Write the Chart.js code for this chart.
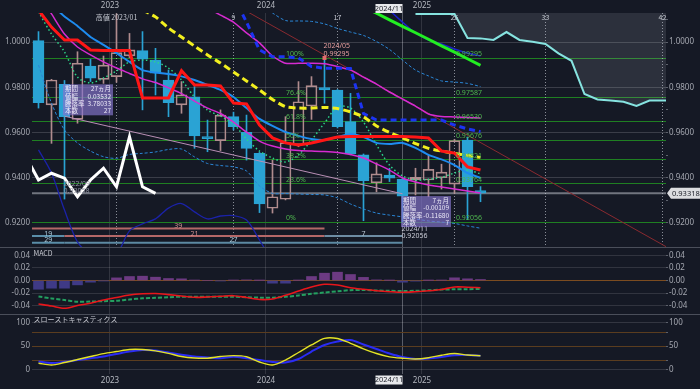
<!DOCTYPE html>
<html><head><meta charset="utf-8">
<script src="https://cdn.jsdelivr.net/npm/chart.js@4/dist/chart.umd.min.js"></script>
<style>
html,body{margin:0;padding:0;background:#151925;width:700px;height:389px;overflow:hidden}
.c{position:absolute;left:0;width:700px}
.sep{position:absolute;left:0;width:700px;height:1px;background:#4a4e5a}
</style></head><body>
<div class="c" style="top:0;height:248px"><canvas id="main" width="700" height="248"></canvas></div>
<div class="c" style="top:248px;height:66px"><canvas id="macd" width="700" height="66"></canvas></div>
<div class="c" style="top:314px;height:75px"><canvas id="stoch" width="700" height="75"></canvas></div>
<div class="sep" style="top:247px"></div>
<div class="sep" style="top:314px"></div>
<script>
// ---------------- DATA ----------------
const months = ['2022/07','2022/08','2022/09','2022/10','2022/11','2022/12','2023/01','2023/02','2023/03','2023/04','2023/05','2023/06','2023/07','2023/08','2023/09','2023/10','2023/11','2023/12','2024/01','2024/02','2024/03','2024/04','2024/05','2024/06','2024/07','2024/08','2024/09','2024/10','2024/11','2024/12','2025/01','2025/02','2025/03','2025/04','2025/05'];
const open  = [1.0006,0.9722,0.9813,0.9658,0.9894,0.9835,0.9847,0.9939,0.9962,0.9920,0.9832,0.9722,0.9758,0.9582,0.9564,0.9670,0.9601,0.9508,0.9265,0.9305,0.9545,0.9717,0.9798,0.9788,0.9648,0.9501,0.9378,0.9412,0.9393,0.9390,0.9390,0.9400,0.9372,0.9567,0.9343];
const high  = [1.0046,0.9835,0.9830,0.9957,0.9924,0.9938,1.0125,1.0038,1.0046,0.9972,0.9876,0.9825,0.9803,0.9655,0.9700,0.9690,0.9677,0.9512,0.9478,0.9670,0.9825,0.9847,0.99295,0.9790,0.9773,0.9505,0.9466,0.9442,0.9400,0.9442,0.9501,0.9460,0.9570,0.9580,0.9361];
const low   = [0.9708,0.9552,0.93058,0.9641,0.9825,0.9817,0.9822,0.9930,0.9700,0.9766,0.9670,0.9685,0.9530,0.9515,0.9520,0.9611,0.9478,0.9246,0.9244,0.9302,0.9537,0.9658,0.9729,0.9620,0.9501,0.9210,0.9338,0.9383,0.92056,0.9324,0.9316,0.9350,0.9331,0.9215,0.9294];
const close = [0.9732,0.9832,0.9670,0.9906,0.9840,0.9898,0.9953,0.9965,0.9924,0.9862,0.9732,0.9766,0.9585,0.9573,0.9677,0.9626,0.9530,0.9284,0.9316,0.9555,0.9736,0.9807,0.9788,0.9626,0.9505,0.9387,0.9417,0.9398,0.9319,0.9402,0.9437,0.9425,0.9564,0.9361,0.93318];

const redLine     = [1.0141,1.0066,1.0009,1.0009,0.9965,0.9962,0.9962,0.9962,0.9753,0.9753,0.9753,0.9873,0.9810,0.9810,0.9806,0.9730,0.9726,0.9633,0.9576,0.9554,0.9545,0.9554,0.9567,0.9580,0.9582,0.9582,0.9582,0.9582,0.9582,0.9580,0.9576,0.9518,0.9509,0.9448,0.9434];
const blueLine    = [null,1.0164,1.0113,1.0071,1.0022,0.9987,0.9951,0.9912,0.9876,0.9865,0.9859,0.9848,0.9832,0.9810,0.9788,0.9757,0.9708,0.9660,0.9629,0.9602,0.9585,0.9571,0.9567,0.9580,0.9593,0.9580,0.9554,0.9549,0.9554,0.9532,0.9501,0.9481,0.9456,0.9421,0.9399];
const magentaLine = [1.0210,1.0124,1.0035,0.9978,0.9943,0.9912,0.9885,0.9861,0.9837,0.9821,0.9797,0.9772,0.9739,0.9708,0.9684,0.9646,0.9602,0.9562,0.9540,0.9527,0.9520,0.9518,0.9516,0.9512,0.9503,0.9487,0.9461,0.9434,0.9399,0.9381,0.9368,0.9359,0.9350,0.9341,0.9333];
const magentaLong = [null,null,null,null,null,null,null,null,null,null,null,null,null,1.0150,1.0119,1.0088,1.0040,0.9996,0.9938,0.9906,0.9906,0.9906,0.9904,0.9892,0.9876,0.9845,0.9814,0.9779,0.9748,0.9717,0.9682,0.9671,0.9669,0.9666,0.9664];
const yellowLine  = [null,null,null,null,null,null,null,null,1.0141,1.0111,1.0062,1.0022,0.9982,0.9943,0.9907,0.9867,0.9828,0.9788,0.9746,0.9714,0.9708,0.9708,0.9711,0.9706,0.9691,0.9669,0.9629,0.9600,0.9577,0.9551,0.9530,0.9518,0.9508,0.9498,0.9490];
const greenDotted = [1.0133,1.0035,0.9956,0.9845,0.9819,0.9841,0.9872,0.9912,0.9920,0.9912,0.9885,0.9832,0.9757,0.9699,0.9673,0.9638,0.9571,0.9518,0.9487,0.9470,0.9501,0.9567,0.9642,0.9713,0.9708,0.9646,0.9545,0.9456,0.9408,0.9390,0.9393,0.9401,0.9421,0.9434,0.9417];
const bandUpper   = [null,null,null,null,null,null,null,null,null,null,null,null,null,null,null,null,null,1.0164,1.0128,1.0095,1.0093,1.0091,1.0080,1.0060,1.0044,1.0029,1.0002,0.9967,0.9920,0.9876,0.9850,0.9828,0.9823,0.9817,0.9803];
const bandLower   = [0.9898,0.9730,0.9611,0.9554,0.9518,0.9493,0.9486,0.9503,0.9508,0.9514,0.9525,0.9527,0.9492,0.9463,0.9454,0.9448,0.9430,0.9364,0.9331,0.9330,0.9328,0.9326,0.9324,0.9311,0.9284,0.9262,0.9244,0.9235,0.9227,0.9218,0.9209,0.9204,0.9198,0.9187,0.9177];
const navyLower   = [0.9523,0.9421,0.9257,0.9116,0.9059,0.9028,0.9059,0.9165,0.9196,0.9218,0.9266,0.9286,0.9249,0.9218,0.9231,0.9233,0.9213,0.9125,0.9028,null,null,null,null,null,null,null,null,null,null,null,null,null,null,null,null];
const navyUpper   = [null,null,null,null,null,null,null,null,null,null,null,null,null,null,null,null,null,null,null,null,null,null,null,null,null,null,1.0200,1.0141,1.0088,1.0040,1.0009,0.9991,0.9969,0.9951,0.9938];
const royalDashed = [null,null,null,null,null,null,null,null,null,null,null,null,null,null,null,1.0200,1.0088,0.9965,0.9935,0.9935,0.9929,0.9892,0.9884,0.9884,0.9883,0.9684,0.9655,0.9655,0.9655,0.9655,0.9655,0.9655,0.9633,0.9616,0.9604];
const greenTrend  = [null,null,null,null,null,null,null,null,null,null,null,null,null,null,null,null,null,null,null,null,null,null,null,null,null,1.0156,1.0127,1.0098,1.0069,1.0041,1.0012,0.9983,0.9955,0.9926,0.9897];

const lagMonths = ['2022/06','2022/07','2022/08','2022/09','2022/10','2022/11','2022/12','2023/01','2023/02','2023/03','2023/04'];
const lagValues = [0.9496,0.9390,0.9420,0.9398,0.9316,0.9390,0.9442,0.9360,0.9581,0.9360,0.9331];

const forecastMonths = ['2024/12','2025/01','2025/02','2025/03','2025/04','2025/05','2025/06','2025/07','2025/08','2025/09','2025/10','2025/11','2025/12','2026/01','2026/02','2026/03','2026/04','2026/05','2026/06','2026/07','2026/08'];
const forecastValues = [1.0124,1.0124,1.0124,1.0124,1.0018,1.0016,1.0009,1.0044,1.0009,1.0001,0.9991,0.9950,0.9917,0.9770,0.9746,0.9741,0.9736,0.9717,0.9741,0.9741,0.9741];

const pinkTrendMonths = ['2022/09','2024/11'];   const pinkTrendValues = [0.9672,0.9329];
const redTrendMonths  = ['2023/11','2026/08'];   const redTrendValues  = [1.0136,0.9072];

const fibPercents = ['100%','76.4%','61.8%','50%','38.2%','23.6%','0%'];
const fibValues   = [0.99295,0.97587,0.96530,0.95676,0.94821,0.93764,0.92056];
const fibLabelMonths = ['2024/02','2025/03'];

const cycleBase = '2023/01';
const cycleCounts = [9,17,26,33,42];

const countSegs = [
  {from:'2021/03', to:'2024/05', n:'39'},
  {from:'2021/03', to:'2022/09', n:'19'},
  {from:'2022/09', to:'2024/05', n:'21'},
  {from:'2024/05', to:'2024/11', n:'7'},
  {from:'2020/05', to:'2022/09', n:'29'},
  {from:'2022/09', to:'2024/11', n:'27'}
];

const infoBoxes = [
  {month:'2022/09', price:0.9813, rows:[['期間','27ヵ月'],['値幅','0.03532'],['騰落率','3.78033'],['本数','27']]},
  {month:'2024/11', price:0.9319, rows:[['期間','7ヵ月'],['値幅','-0.00109'],['騰落率','-0.11680'],['本数','7']]}
];
const pointNotes = [
  {month:'2022/09', price:0.93058, text:['2022/09','0.93058'], kind:'lowAbove'},
  {month:'2024/11', price:0.92056, text:['2024/11','0.92056'], kind:'lowBelow'},
  {month:'2024/05', price:0.99295, text:['2024/05','0.99295'], kind:'high'}
];
const highNote = '高値 2023/01';

const yearTicks = [{m:'2023/01', label:'2023'},{m:'2024/01', label:'2024'},{m:'2025/01', label:'2025'}];
const cursorMonth = '2024/11';
const lastPrice = 0.93318;

const macdHist = [-0.0140,-0.0123,-0.0123,-0.0070,-0.0027,-0.0005,0.0042,0.0064,0.0069,0.0053,0.0032,0.0027,0.0005,0.0000,-0.0005,0.0005,0.0010,0.0002,-0.0043,-0.0043,0.0003,0.0064,0.0117,0.0133,0.0096,0.0050,0.0010,0.0003,-0.0027,-0.0010,0.0002,0.0005,0.0043,0.0027,0.0016];
const macdLine = [-0.0376,-0.0408,-0.0445,-0.0400,-0.0365,-0.0312,-0.0272,-0.0232,-0.0213,-0.0208,-0.0226,-0.0248,-0.0269,-0.0264,-0.0253,-0.0243,-0.0272,-0.0304,-0.0296,-0.0237,-0.0168,-0.0104,-0.0061,-0.0072,-0.0115,-0.0141,-0.0163,-0.0179,-0.0189,-0.0179,-0.0165,-0.0144,-0.0104,-0.0107,-0.0115];
const macdSignal = [-0.0256,-0.0288,-0.0312,-0.0339,-0.0336,-0.0331,-0.0325,-0.0304,-0.0285,-0.0277,-0.0267,-0.0259,-0.0259,-0.0259,-0.0259,-0.0259,-0.0267,-0.0274,-0.0274,-0.0261,-0.0240,-0.0213,-0.0192,-0.0173,-0.0155,-0.0152,-0.0160,-0.0165,-0.0168,-0.0165,-0.0157,-0.0146,-0.0141,-0.0139,-0.0136];
const stochK = [13.8,10.0,15.3,21.7,28.1,34.3,38.7,43.0,43.0,40.2,34.9,28.1,24.9,24.5,28.0,30.0,27.7,16.4,10.0,20.6,36.6,52.6,66.8,66.4,56.2,44.5,34.5,27.4,24.5,22.8,25.5,30.9,34.5,31.3,29.8];
const stochD = [17.4,14.3,16.8,20.6,24.3,28.1,33.4,38.7,41.9,40.9,36.6,31.9,28.1,26.0,24.3,27.7,24.5,20.6,16.4,15.3,22.8,38.7,52.6,60.0,63.2,53.6,44.0,34.5,27.0,22.8,23.8,27.0,30.9,31.3,29.8];

// ---------------- HELPERS ----------------
const mIdx = s => { const [y,m] = s.split('/').map(Number); return (y-2023)*12 + (m-1); };
const xy = (ms, vs) => ms.map((m,i)=>({x:mIdx(m), y:vs[i]})).filter(p=>p.y!==null && p.y!==undefined);
const F  = '"Noto Sans","DejaVu Sans",sans-serif';
const FJ = '"Noto Sans CJK JP","Noto Sans",sans-serif';
const TXT = '#a4a7b0';
const XMIN = -6.5, XMAX = 42.27;
const yearVals = yearTicks.map(t => mIdx(t.m) - 0.5);
const xTicks = [...yearVals, mIdx(cursorMonth)].sort((a,b)=>a-b);
const xLabel = v => { const k = yearVals.indexOf(v); return k>=0 ? yearTicks[k].label : ''; };
Chart.defaults.font.family = F;
Chart.defaults.font.size = 8;
Chart.defaults.color = TXT;
Chart.defaults.animation = false;

const UPC = '#b08c8e', DNC = '#2aa3d4';
const up = i => close[i] >= open[i];

function xAxis(pos, h, showLabels){
  return {type:'linear', position:pos, min:XMIN, max:XMAX, offset:false,
    afterBuildTicks: s => { s.ticks = xTicks.map(v=>({value:v})); },
    afterFit: s => { s.height = h; s.paddingLeft = 0; s.paddingRight = 0; },
    ticks:{display:showLabels, autoSkip:false, maxRotation:0, padding:2, color:'#b5b8c0', callback:v=>xLabel(v), font:{size:8}},
    grid:{drawTicks:false, offset:false, color: c => (c.tick && c.tick.value===mIdx(cursorMonth)) ? 'rgba(220,222,230,0.35)' : 'rgba(255,255,255,0.12)'},
    border:{display:false}};
}
function yAxis(pos, min, max, ticks, fmt, gridFn, w){
  const left = pos==='left';
  return {type:'linear', position:pos, min, max,
    afterBuildTicks: s => { s.ticks = ticks.map(v=>({value:v})); },
    afterFit: s => { s.width = w; s.paddingTop = 0; s.paddingBottom = 0; },
    ticks:{callback:fmt, color:TXT, padding: left?2:1, font:{size:8}},
    grid: left ? {drawTicks:false, color:gridFn} : {drawOnChartArea:false, drawTicks:true, tickLength:2, tickColor:'#5d616c'},
    border:{display:false}};
}

// ---------------- MAIN CHART ----------------
const priceTicks = [0.92,0.93,0.94,0.95,0.96,0.97,0.98,0.99,1.00,1.01];
const isMajor = v => Math.round(v*100) % 2 === 0;
const priceFmt = v => isMajor(v) ? v.toFixed(4) : '';
const priceGrid = c => (c.tick && isMajor(c.tick.value)) ? 'rgba(255,255,255,0.16)' : 'rgba(0,0,0,0)';
const PMAX = 1.012818, PMIN = 0.909392;

const line = (data, color, width, extra) => Object.assign({type:'line', data, borderColor:color, borderWidth:width, pointRadius:0, fill:false, tension:0}, extra||{});

function text(ctx, s, x, y, color, font, align){
  ctx.fillStyle = color; ctx.font = font; ctx.textAlign = align||'left'; ctx.textBaseline = 'middle'; ctx.fillText(s, x, y);
}

const mainDeco = {
  id:'mainDeco',
  beforeDatasetsDraw(chart){
    const {ctx, chartArea:a, scales:{x, y}} = chart;
    ctx.save();
    ctx.beginPath(); ctx.rect(a.left, a.top, a.right-a.left, a.bottom-a.top); ctx.clip();
    ctx.strokeStyle = '#1f7f22'; ctx.lineWidth = 1;
    fibValues.forEach(v => { const py = Math.round(y.getPixelForValue(v))+0.5; ctx.beginPath(); ctx.moveTo(a.left,py); ctx.lineTo(a.right,py); ctx.stroke(); });
    const lp = y.getPixelForValue(lastPrice);
    ctx.strokeStyle = 'rgba(175,178,188,0.6)'; ctx.lineWidth = 2;
    ctx.beginPath(); ctx.moveTo(a.left,lp); ctx.lineTo(a.right,lp); ctx.stroke();
    ctx.setLineDash([1,2]); ctx.strokeStyle = 'rgba(215,218,228,0.6)'; ctx.lineWidth = 1;
    [0, ...cycleCounts].forEach(c => { const px = Math.round(x.getPixelForValue(mIdx(cycleBase)+c))+0.5; ctx.beginPath(); ctx.moveTo(px,a.top); ctx.lineTo(px,a.bottom); ctx.stroke(); });
    ctx.setLineDash([]);
    const rows = [18.5, 11, 4.3];
    const segRow = [0,1,1,1,2,2];
    const segColor = ['#b56868','#5a8ea9','#b56868','#6d8ca3','#5a8ea9','#5d8aa3'];
    const segText  = ['#d28f8f','#a9c9d9','#d28f8f','#b9c6d2','#a9c9d9','#a9c9d9'];
    countSegs.forEach((s,k) => {
      const x1 = Math.max(a.left, x.getPixelForValue(mIdx(s.from)));
      const x2 = Math.min(a.right, x.getPixelForValue(mIdx(s.to)));
      const py = a.bottom - rows[segRow[k]];
      ctx.strokeStyle = segColor[k]; ctx.lineWidth = 2;
      ctx.beginPath(); ctx.moveTo(x1,py); ctx.lineTo(x2,py); ctx.stroke();
      text(ctx, s.n, (x1+x2)/2, py-2.5, segText[k], '7px '+F, 'center');
    });
    ctx.restore();
  },
  afterDatasetsDraw(chart){
    const {ctx, chartArea:a, scales:{x, y}} = chart;
    ctx.save();
    const xl = x.getPixelForValue(mIdx(fibLabelMonths[0])) + 0.5;
    const xr = x.getPixelForValue(mIdx(fibLabelMonths[1])) + 1.5;
    fibValues.forEach((v,k) => {
      const py = y.getPixelForValue(v) - 3.5;
      text(ctx, fibPercents[k], xl, py, '#4fb64f', '7px '+F);
      text(ctx, v.toFixed(5), xr, py, '#4fb64f', '7px '+F);
    });
    [0, ...cycleCounts].forEach((c,k) => {
      const px = x.getPixelForValue(mIdx(cycleBase)+c);
      text(ctx, k===0 ? highNote : String(c), px, a.top+4.5, '#c3c6cf', '7px '+FJ, 'center');
    });
    pointNotes.forEach(n => {
      const px = x.getPixelForValue(mIdx(n.month)) - 1;
      const py = y.getPixelForValue(n.price);
      let y1, y2, col;
      if (n.kind==='high'){ y1 = py-11.5; y2 = py-4.3; col = '#e39c9c';
        ctx.fillStyle = '#e46a6a'; ctx.fillRect(px-1, py-2, 4, 4); }
      else if (n.kind==='lowAbove'){ y1 = py-15; y2 = py-8; col = '#8e91a0'; }
      else { y1 = py+7.6; y2 = py+14.4; col = '#c9cbd6'; }
      text(ctx, n.text[0], px, y1, col, '7px '+F);
      text(ctx, n.text[1], px, y2, col, '7px '+F);
    });
    infoBoxes.forEach(b => {
      const bx = x.getPixelForValue(mIdx(b.month)) - 1.5;
      const by = y.getPixelForValue(b.price);
      const w = 50, h = 31;
      ctx.fillStyle = 'rgba(132,116,205,0.68)';
      ctx.fillRect(bx, by, w, h);
      b.rows.forEach((r,k) => {
        const ty = by + 4.5 + k*7.4;
        text(ctx, r[0], bx+2, ty, '#eceaf8', '6.5px '+FJ);
        text(ctx, r[1], bx+w-2, ty, '#eceaf8', '6.5px '+FJ, 'right');
      });
    });
    ctx.restore();
  },
  afterDraw(chart){
    const {ctx, chartArea:a, scales:{x, y}} = chart;
    ctx.save();
    const cx = x.getPixelForValue(mIdx(cursorMonth));
    ctx.fillStyle = '#e8e9ec'; ctx.fillRect(cx-27, 4, 27, 9);
    text(ctx, cursorMonth, cx-13.5, 8.7, '#1b1e27', '7.5px '+F, 'center');
    const py = y.getPixelForValue(lastPrice);
    ctx.fillStyle = '#dcdde0';
    ctx.beginPath(); ctx.moveTo(a.right+1, py); ctx.lineTo(a.right+5, py-5.5); ctx.lineTo(700, py-5.5); ctx.lineTo(700, py+5.5); ctx.lineTo(a.right+5, py+5.5); ctx.closePath(); ctx.fill();
    text(ctx, lastPrice.toFixed(5), a.right+6, py+0.5, '#1b1e27', '7.5px '+F);
    ctx.restore();
  }
};

const bodyData = months.map((m,i)=>({x:mIdx(m), y:[open[i], close[i]]}));
const wickUp   = months.map((m,i)=>({x:mIdx(m), y:[Math.max(open[i],close[i]), high[i]]}));
const wickDn   = months.map((m,i)=>({x:mIdx(m), y:[low[i], Math.min(open[i],close[i])]}));
const wickCol  = months.map((m,i)=> up(i) ? UPC : DNC);

new Chart(document.getElementById('main'), {
  type:'bar',
  data:{datasets:[
    {type:'bar', data:wickUp, backgroundColor:wickCol, barThickness:1, grouped:false, order:31},
    {type:'bar', data:wickDn, backgroundColor:wickCol, barThickness:1, grouped:false, order:31},
    {type:'bar', data:bodyData, backgroundColor:months.map((m,i)=>up(i)?'rgba(0,0,0,0)':DNC), borderColor:months.map((m,i)=>up(i)?UPC:DNC),
      borderWidth:1, borderSkipped:false, barThickness:11, grouped:false, minBarLength:2, order:30},
    line(xy(pinkTrendMonths, pinkTrendValues), '#b98fb5', 1, {order:14}),
    line(xy(redTrendMonths, redTrendValues), '#8a2a30', 1, {order:14}),
    line(xy(forecastMonths, forecastValues), '#86e3e0', 2, {order:12, fill:'end', backgroundColor:'rgba(200,205,218,0.13)'}),
    line(xy(months, navyLower), '#1b22a8', 1.3, {order:11, tension:0.3}),
    line(xy(months, navyUpper), '#1b22c8', 1.5, {order:11, tension:0.3}),
    line(xy(months, bandLower), '#2a86d6', 1, {order:10, borderDash:[3,2], tension:0.3}),
    line(xy(months, bandUpper), '#2a86d6', 1, {order:10, borderDash:[3,2], tension:0.3}),
    line(xy(months, greenDotted), '#2bd68a', 1.5, {order:9, borderDash:[1.5,2.5], tension:0.3}),
    line(xy(months, magentaLong), '#d62bd0', 1.5, {order:8, tension:0.2}),
    line(xy(months, magentaLine), '#d62bd0', 1.5, {order:8, tension:0.2}),
    line(xy(months, blueLine), '#1e8cf0', 2, {order:7, tension:0.2}),
    line(xy(months, royalDashed), '#1c34f2', 3, {order:6, borderDash:[6,4]}),
    line(xy(months, yellowLine), '#f2ef1f', 3, {order:5, borderDash:[7,4], tension:0.2}),
    line(xy(months, redLine), '#ff1616', 3, {order:4}),
    line(xy(months, greenTrend), '#22ee22', 3, {order:3}),
    line(xy(lagMonths, lagValues), '#ffffff', 3, {order:2})
  ]},
  options:{
    responsive:false, devicePixelRatio:1, animation:false,
    layout:{padding:{top:0,bottom:1,left:0,right:0}},
    plugins:{legend:{display:false}, tooltip:{enabled:false}},
    scales:{
      x: xAxis('top', 13, true),
      y: yAxis('left', PMIN, PMAX, priceTicks, priceFmt, priceGrid, 32),
      yR: yAxis('right', PMIN, PMAX, priceTicks, priceFmt, priceGrid, 34)
    }
  },
  plugins:[mainDeco]
});

// ---------------- MACD ----------------
const macdTicks = [-0.04,-0.02,0,0.02,0.04];
const macdGrid = c => (c.tick && Math.abs(c.tick.value)<1e-9) ? '#7c4c20' : 'rgba(255,255,255,0.12)';
const panelLabel = (label) => ({id:'pl'+label.length, afterDraw(chart){ const {ctx, chartArea:a} = chart; ctx.save(); text(ctx, label, a.left+1.5, a.top+5, '#c8cad2', '7px '+FJ); ctx.restore(); }});

new Chart(document.getElementById('macd'), {
  type:'bar',
  data:{datasets:[
    {type:'bar', data:xy(months, macdHist), backgroundColor:macdHist.map(v=> v<0 ? '#3f3a86' : '#6c3a82'), barThickness:10, order:5},
    line(xy(months, macdSignal), '#23a060', 2, {order:2, borderDash:[4,2], tension:0.3}),
    line(xy(months, macdLine), '#e8161b', 1.6, {order:1, tension:0.3})
  ]},
  options:{
    responsive:false, devicePixelRatio:1, animation:false,
    layout:{padding:0},
    plugins:{legend:{display:false}, tooltip:{enabled:false}},
    scales:{
      x: xAxis('bottom', 0, false),
      y: yAxis('left', -0.0536, 0.052, macdTicks, v=>v.toFixed(2), macdGrid, 32),
      yR: yAxis('right', -0.0536, 0.052, macdTicks, v=>v.toFixed(2), macdGrid, 34)
    }
  },
  plugins:[panelLabel('MACD')]
});

// ---------------- STOCHASTICS ----------------
const stTicks = [0,20,50,80,100];
const stFmt = v => (v===0||v===50||v===100) ? String(v) : '';
const stGrid = c => (c.tick && (c.tick.value===0 || c.tick.value===100)) ? 'rgba(255,255,255,0.13)' : '#5b3d1f';
const bottomCursor = {id:'bc', afterDraw(chart){
  const {ctx, chartArea:a, scales:{x}} = chart;
  const cx = x.getPixelForValue(mIdx(cursorMonth));
  ctx.save(); ctx.fillStyle = '#e8e9ec'; ctx.fillRect(cx-27, a.bottom+1.5, 27, 9);
  text(ctx, cursorMonth, cx-13.5, a.bottom+6.2, '#1b1e27', '7.5px '+F, 'center'); ctx.restore();
}};

new Chart(document.getElementById('stoch'), {
  type:'line',
  data:{datasets:[
    line(xy(months, stochD), '#2a2cf5', 2, {order:2, tension:0.3}),
    line(xy(months, stochK), '#e3e326', 1.4, {order:1, tension:0.3})
  ]},
  options:{
    responsive:false, devicePixelRatio:1, animation:false,
    layout:{padding:0},
    plugins:{legend:{display:false}, tooltip:{enabled:false}},
    scales:{
      x: xAxis('bottom', 15, true),
      y: yAxis('left', -9.1, 118.5, stTicks, stFmt, stGrid, 32),
      yR: yAxis('right', -9.1, 118.5, stTicks, stFmt, stGrid, 34)
    }
  },
  plugins:[panelLabel('スローストキャスティクス'), bottomCursor]
});
</script>
</body></html>
